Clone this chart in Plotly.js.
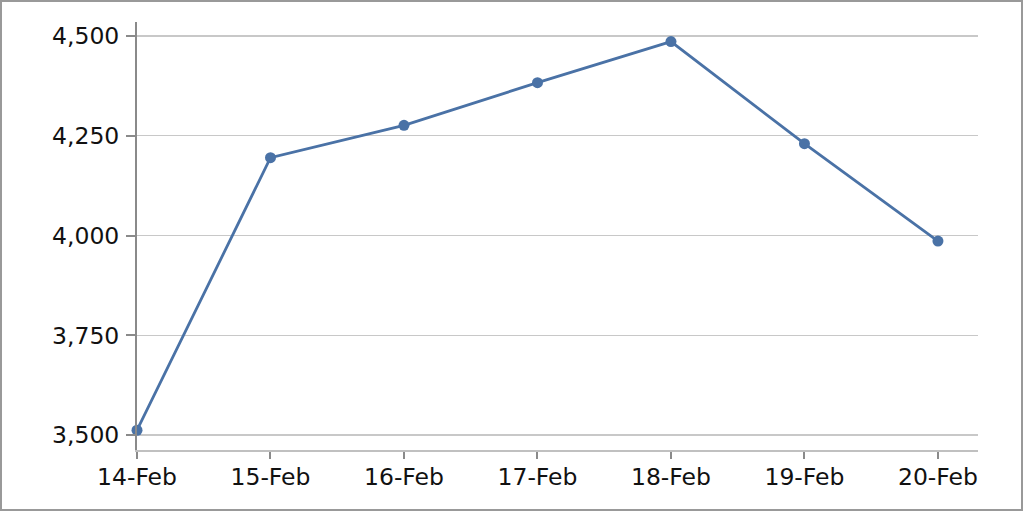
<!DOCTYPE html>
<html><head><meta charset="utf-8">
<script src="https://cdn.plot.ly/plotly-3.0.1.min.js"></script>
<style>
html,body{margin:0;padding:0;background:#fff;}
#chart{position:absolute;left:0;top:0;width:1024px;height:513px;}
#frame{position:absolute;left:0;top:0;width:1023px;height:511px;box-sizing:border-box;border:2px solid #999;pointer-events:none;}
</style></head>
<body>
<div id="chart"></div>
<div id="frame"></div>
<script>
const categories = ["14-Feb","15-Feb","16-Feb","17-Feb","18-Feb","19-Feb","20-Feb"];
const values = [3512, 4195, 4276, 4383, 4486, 4230, 3986];
const yTicks = [3500, 3750, 4000, 4250, 4500];
const yTickLabels = ["3,500","3,750","4,000","4,250","4,500"];

const trace = {
  x: categories, y: values, type: "scatter", mode: "lines+markers",
  line: {color: "#4a72a6", width: 2.8},
  marker: {color: "#4a72a6", size: 11},
  cliponaxis: false, hoverinfo: "none"
};
const layout = {
  width: 1024, height: 513,
  margin: {l: 137, r: 46, t: 22, b: 63},
  paper_bgcolor: "#fff", plot_bgcolor: "#fff",
  showlegend: false,
  font: {family: "DejaVu Sans", size: 23.5, color: "#111"},
  xaxis: {
    type: "category", range: [0, 6.3],
    showgrid: false, zeroline: false,
    showline: true, linecolor: "#c0c0c0", linewidth: 2,
    ticks: "outside", ticklen: 7, tickwidth: 2, tickcolor: "#8a8a8a",
    ticklabelstandoff: -2,
    tickfont: {family: "DejaVu Sans", size: 23.5, color: "#111"}
  },
  yaxis: {
    range: [3462.5, 4535],
    tickvals: yTicks, ticktext: yTickLabels,
    showgrid: true, gridcolor: "#c8c8c8", gridwidth: 1.5,
    zeroline: false,
    showline: true, linecolor: "#8a8a8a", linewidth: 2,
    ticks: "outside", ticklen: 9, tickwidth: 2, tickcolor: "#8a8a8a",
    ticklabelstandoff: 2,
    tickfont: {family: "DejaVu Sans", size: 23.5, color: "#111"}
  }
};
Plotly.newPlot("chart", [trace], layout, {staticPlot: true, displayModeBar: false});
</script>
</body></html>
